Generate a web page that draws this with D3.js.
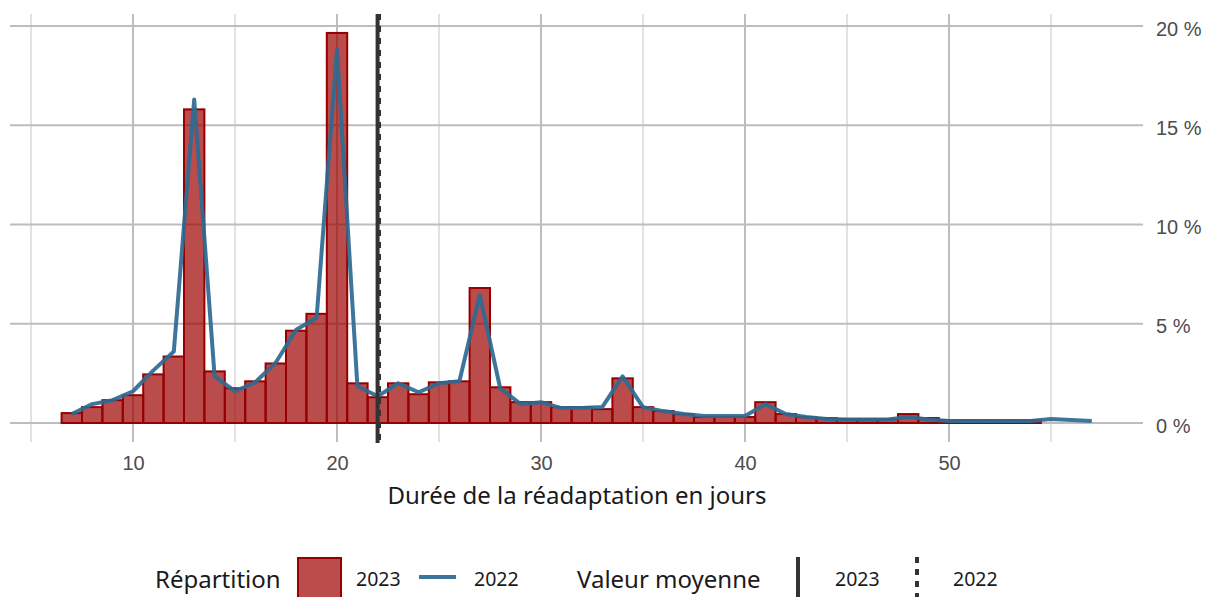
<!DOCTYPE html>
<html>
<head>
<meta charset="utf-8">
<script src="https://cdn.jsdelivr.net/npm/d3@7"></script>
<style>
  body { margin: 0; background: #fff; }
  svg { font-family: "Noto Sans", "Open Sans", sans-serif; }
</style>
</head>
<body>
<div id="chart"></div>
<script>
// Durée (jours) - répartition 2023 (barres)
var days2023 = [7, 8, 9, 10, 11, 12, 13, 14, 15, 16, 17, 18, 19, 20, 21, 22, 23, 24, 25, 26, 27, 28, 29, 30,
  31, 32, 33, 34, 35, 36, 37, 38, 39, 40, 41, 42, 43, 44, 45, 46, 47, 48, 49, 50, 51, 52, 53, 54];
var pct2023 = [0.5, 0.8, 1.15, 1.4, 2.45, 3.35, 15.8, 2.6, 1.75, 2.1, 3.0, 4.65, 5.5, 19.65, 2.0, 1.3, 2.0, 1.45, 2.05, 2.1,
  6.8, 1.8, 1.05, 1.05, 0.8, 0.8, 0.7, 2.25, 0.8, 0.6, 0.45, 0.3, 0.3, 0.3, 1.05, 0.45, 0.3, 0.25,
  0.2, 0.2, 0.2, 0.45, 0.25, 0.15, 0.15, 0.15, 0.15, 0.15];

// 2022 (ligne)
var days2022 = [7, 8, 9, 10, 11, 12, 13, 14, 15, 16, 17, 18, 19, 20, 21, 22, 23, 24, 25, 26, 27, 28, 29, 30,
  31, 32, 33, 34, 35, 36, 37, 38, 39, 40, 41, 42, 43, 44, 45, 46, 47, 48, 49, 50, 51, 52, 53, 54, 55, 56, 57];
var pct2022 = [0.45, 0.95, 1.15, 1.6, 2.65, 3.6, 16.3, 2.35, 1.6, 2.05, 3.05, 4.7, 5.3, 18.8, 1.85, 1.35, 2.0, 1.55, 2.0, 2.1,
  6.45, 1.75, 0.95, 1.05, 0.75, 0.75, 0.8, 2.35, 0.8, 0.6, 0.45, 0.35, 0.35, 0.35, 0.95, 0.45, 0.3, 0.2,
  0.18, 0.18, 0.18, 0.3, 0.18, 0.1, 0.1, 0.1, 0.1, 0.1, 0.2, 0.15, 0.1];

// Valeurs moyennes
var mean2023 = 21.99,
    mean2022 = 22.06;

var xMajor = [10, 20, 30, 40, 50],
    xMinor = [5, 15, 25, 35, 45, 55],
    yTicks = [0, 5, 10, 15, 20];

var width = 1205,
    height = 597;

var x = d3.scaleLinear().domain([5, 55]).range([31, 1051]),
    y = d3.scaleLinear().domain([0, 20]).range([423, 26]);

var gridLeft = 10, gridRight = 1143, gridTop = 14, gridBottom = 442;

var svg = d3.select("#chart").append("svg")
    .attr("width", width)
    .attr("height", height);

//grid
svg.append("g").selectAll("line")
    .data(xMinor)
    .enter().append("line")
    .attr("x1", function(d) { return x(d) }).attr("x2", function(d) { return x(d) })
    .attr("y1", gridTop).attr("y2", gridBottom)
    .attr("stroke", "#cfcfcf").attr("stroke-width", 1.2);

svg.append("g").selectAll("line")
    .data(xMajor)
    .enter().append("line")
    .attr("x1", function(d) { return x(d) }).attr("x2", function(d) { return x(d) })
    .attr("y1", gridTop).attr("y2", gridBottom)
    .attr("stroke", "#bdbdbd").attr("stroke-width", 2);

svg.append("g").selectAll("line")
    .data(yTicks)
    .enter().append("line")
    .attr("x1", gridLeft).attr("x2", gridRight)
    .attr("y1", function(d) { return y(d) }).attr("y2", function(d) { return y(d) })
    .attr("stroke", "#bdbdbd").attr("stroke-width", 2);

//bars 2023
svg.append("g").selectAll("rect")
    .data(days2023)
    .enter().append("rect")
    .attr("x", function(d) { return x(d - 0.5) })
    .attr("width", function(d) { return x(d + 0.5) - x(d - 0.5) })
    .attr("y", function(d, i) { return y(pct2023[i]) })
    .attr("height", function(d, i) { return y(0) - y(pct2023[i]) })
    .attr("fill", "#9e0000")
    .attr("fill-opacity", 0.7)
    .attr("stroke", "#960000")
    .attr("stroke-width", 2);

//line 2022
var line = d3.line()
    .x(function(d) { return x(d[0]) })
    .y(function(d) { return y(d[1]) });

svg.append("path")
    .datum(days2022.map(function(d, i) { return [d, pct2022[i]] }))
    .attr("d", line)
    .attr("fill", "none")
    .attr("stroke", "#2d6a91")
    .attr("stroke-opacity", 0.92)
    .attr("stroke-width", 4)
    .attr("stroke-linejoin", "round");

//mean lines
svg.append("line")
    .attr("x1", x(mean2023)).attr("x2", x(mean2023))
    .attr("y1", gridTop).attr("y2", 443)
    .attr("stroke", "#333").attr("stroke-width", 4);

svg.append("line")
    .attr("x1", x(mean2022)).attr("x2", x(mean2022))
    .attr("y1", gridTop).attr("y2", 443)
    .attr("stroke", "#333").attr("stroke-width", 4)
    .attr("stroke-dasharray", "6,6");

//axis labels
var xAxis = d3.axisBottom(x).tickValues(xMajor).tickSize(0).tickPadding(15);
var gx = svg.append("g").attr("transform", "translate(0,441)").call(xAxis);
gx.select(".domain").remove();
gx.selectAll("text").attr("fill", "#4d4d4d").style("font-size", "20px");

var yAxis = d3.axisRight(y).tickValues(yTicks).tickSize(0).tickPadding(0)
    .tickFormat(function(d) { return d + " %" });
var gy = svg.append("g").attr("transform", "translate(1156,0)").call(yAxis);
gy.select(".domain").remove();
gy.selectAll("text").attr("fill", "#4d4d4d").attr("dy", "0.45em").style("font-size", "20px");

svg.append("text")
    .attr("x", 577).attr("y", 504)
    .attr("text-anchor", "middle")
    .attr("fill", "#1a1a1a")
    .style("font-size", "24px")
    .text("Durée de la réadaptation en jours");

//legend
var leg = svg.append("g");
leg.append("text").attr("x", 155).attr("y", 588).style("font-size", "24px").attr("fill", "#1a1a1a").text("Répartition");
leg.append("rect").attr("x", 298).attr("y", 558).attr("width", 43).attr("height", 40)
    .attr("fill", "#9e0000").attr("fill-opacity", 0.7).attr("stroke", "#960000").attr("stroke-width", 2);
leg.append("text").attr("x", 356).attr("y", 586).style("font-size", "19.5px").attr("fill", "#1a1a1a").text("2023");
leg.append("line").attr("x1", 419).attr("x2", 456).attr("y1", 577).attr("y2", 577)
    .attr("stroke", "#2d6a91").attr("stroke-opacity", 0.92).attr("stroke-width", 4);
leg.append("text").attr("x", 474).attr("y", 586).style("font-size", "19.5px").attr("fill", "#1a1a1a").text("2022");

leg.append("text").attr("x", 577).attr("y", 588).style("font-size", "24px").attr("fill", "#1a1a1a").text("Valeur moyenne");
leg.append("line").attr("x1", 798).attr("x2", 798).attr("y1", 557).attr("y2", 597)
    .attr("stroke", "#333").attr("stroke-width", 4);
leg.append("text").attr("x", 835).attr("y", 586).style("font-size", "19.5px").attr("fill", "#1a1a1a").text("2023");
leg.append("line").attr("x1", 917).attr("x2", 917).attr("y1", 557).attr("y2", 597)
    .attr("stroke", "#333").attr("stroke-width", 4).attr("stroke-dasharray", "6,6");
leg.append("text").attr("x", 953).attr("y", 586).style("font-size", "19.5px").attr("fill", "#1a1a1a").text("2022");
</script>
</body>
</html>
